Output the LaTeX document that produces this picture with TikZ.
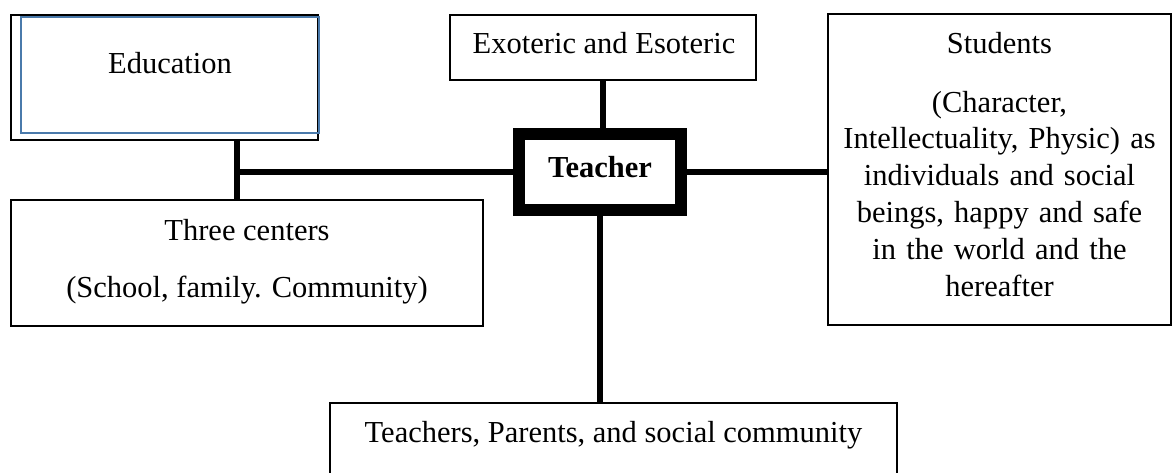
\documentclass[tikz,border=0pt]{standalone}
\usepackage{fontspec}
\setmainfont{Liberation Serif}
\definecolor{eblue}{HTML}{4A7AAB}
\begin{document}
\begin{tikzpicture}[x=1pt,y=-1pt,
  box/.style={draw,line width=2.2pt,inner sep=0pt,rectangle},
  conn/.style={line width=5.5pt},
  txt/.style={font=\fontsize{30.5}{36.8}\selectfont,inner sep=0pt,anchor=base}]
\useasboundingbox (0,0) rectangle (1172,472);
\clip (0,0) rectangle (1172,472);
% boxes
\node[box,minimum width=307pt,minimum height=125pt] (edu) at (164.5,77.5) {};
\draw[line width=2.2pt,eblue] (21,17) rectangle (319,133);
\node[box,minimum width=306pt,minimum height=65pt] (exo) at (603,47.5) {};
\node[draw,line width=12pt,inner sep=0pt,minimum width=162pt,minimum height=76pt] (teacher) at (600,172) {};
\node[box,minimum width=343pt,minimum height=311pt] (stu) at (999.5,169.5) {};
\node[box,minimum width=472pt,minimum height=126pt] (three) at (247,263) {};
\node[box,minimum width=567pt,minimum height=100pt] (bot) at (613.5,453) {};
% texts
\node[txt] (tedu) at (170,73) {Education};
\node[txt] (texo) at (604,53) {Exoteric and Esoteric};
\node[txt,font=\fontsize{30.5}{36.8}\selectfont\bfseries] (ttea) at (600,177) {Teacher};
\node[txt] (tstu) at (999.5,53) {Students};
\node[txt,text width=340pt,align=center] (tstu2) at (999.5,112) {(Character,\\Intellectuality, Physic) as\\individuals and social\\beings, happy and safe\\in the world and the\\hereafter};
\node[txt] (tthr) at (247,240) {Three centers};
\node[txt] (tthr2) at (247,297) {(School, family. Community)};
\node[txt] (tbot) at (613.5,442) {Teachers, Parents, and social community};
% connectors
\coordinate (j) at (237,172);
\draw[conn] (exo.south) -- (exo.south |- teacher.north);
\draw[conn] (teacher.west) -- (j);
\draw[conn] (edu.south -| j) -- (three.north -| j);
\draw[conn] (teacher.east) -- (stu.west |- teacher.east);
\draw[conn] (teacher.south) -- (teacher.south |- bot.north);
\end{tikzpicture}
\end{document}
